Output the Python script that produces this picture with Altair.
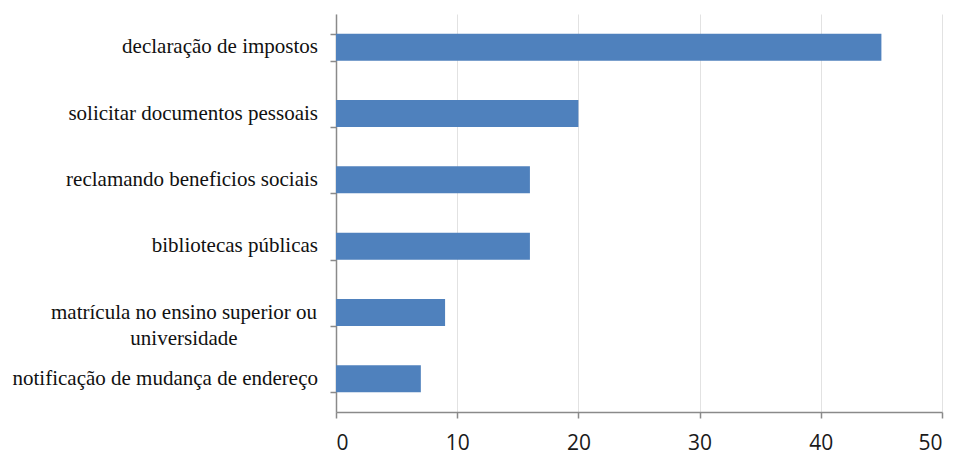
import altair as alt
import pandas as pd

categories = [
    "declaração de impostos",
    "solicitar documentos pessoais",
    "reclamando beneficios sociais",
    "bibliotecas públicas",
    "matrícula no ensino superior ou universidade",
    "notificação de mudança de endereço",
]
values = [45, 20, 16, 16, 9, 7]
x_ticks = [0, 10, 20, 30, 40, 50]
multiline_cat = "matrícula no ensino superior ou universidade"
multiline_lines = ["matrícula no ensino superior ou", "universidade"]

df = pd.DataFrame({"cat": categories, "val": values})
single_df = pd.DataFrame({"cat": [c for c in categories if c != multiline_cat]})
multi_data = alt.Data(values=[{"cat": multiline_cat, "lines": multiline_lines}])

AXIS_COLOR = "#8a8a8a"
SERIF = "Liberation Serif"

y_enc = alt.Y(
    "cat:N",
    sort=categories,
    scale=alt.Scale(paddingInner=0.593, paddingOuter=0.2965),
    axis=alt.Axis(
        title=None,
        labels=False,
        tickBand="extent",
        tickSize=6,
        tickWidth=1.5,
        tickColor=AXIS_COLOR,
        domainColor=AXIS_COLOR,
        domainWidth=1.5,
        grid=False,
    ),
)

bars = alt.Chart(df).mark_bar(color="#4f81bd").encode(
    x=alt.X(
        "val:Q",
        scale=alt.Scale(domain=[0, 50], nice=False),
        axis=alt.Axis(
            title=None,
            values=x_ticks,
            tickSize=6,
            tickWidth=1.5,
            tickColor=AXIS_COLOR,
            domainColor=AXIS_COLOR,
            domainWidth=1.5,
            grid=True,
            gridColor="#e2e2e2",
            labelFont="Open Sans",
            labelFontSize=21,
            labelColor="#1a1a1a",
            labelPadding=14,
        ),
    ),
    y=y_enc,
)

labels = alt.Chart(single_df).mark_text(
    align="right", baseline="middle", font=SERIF, fontSize=21, color="#111111"
).encode(
    y=alt.Y("cat:N", sort=categories),
    x=alt.value(-18),
    text="cat:N",
)

multi_label = alt.Chart(multi_data).mark_text(
    align="center", baseline="middle", font=SERIF, fontSize=21,
    color="#111111", lineHeight=26,
).encode(
    y=alt.Y("cat:N", sort=categories),
    x=alt.value(-152),
    text="lines:N",
)

chart = (
    alt.layer(bars, labels, multi_label)
    .properties(
        width=606,
        height=398,
        autosize=alt.AutoSizeParams(type="none"),
        padding={"left": 328, "top": 6, "right": 12, "bottom": 43},
    )
    .configure_view(stroke=None)
)

chart.save("out.html", embed_options={"renderer": "svg", "actions": False})
